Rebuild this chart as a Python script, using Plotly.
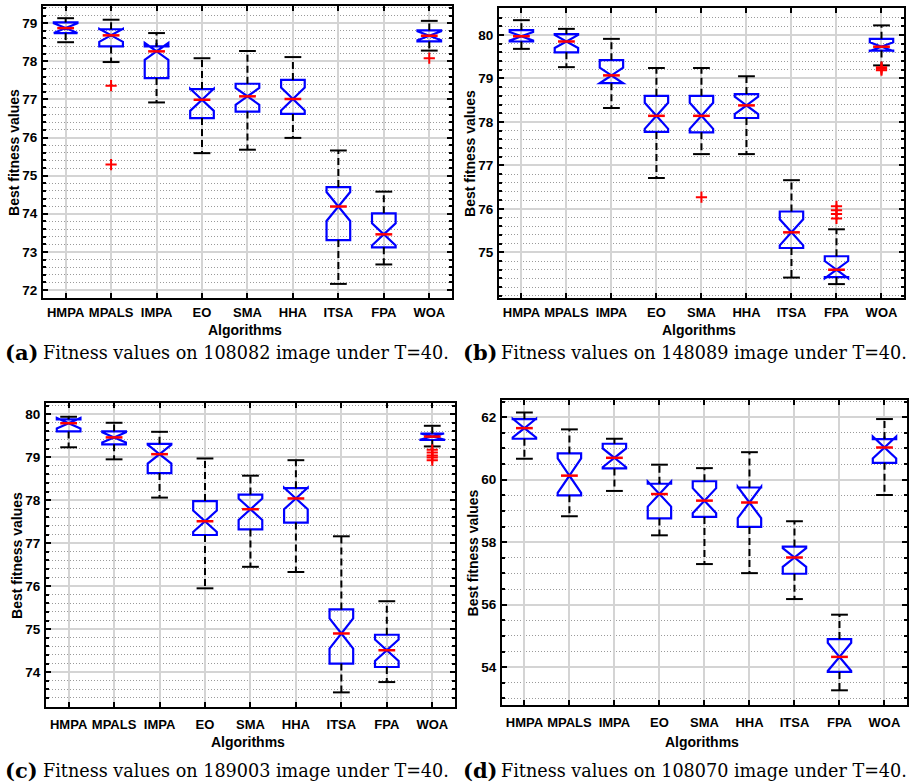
import plotly.graph_objects as go

cats = ["HMPA", "MPALS", "IMPA", "EO", "SMA", "HHA", "ITSA", "FPA", "WOA"]

# Panel (a): 108082 image
a_upper = [79.13, 79.09, 78.74, 78.08, 78.27, 78.11, 75.66, 74.58, 79.06]
a_q3 = [79.02, 78.84, 78.39, 77.27, 77.41, 77.51, 74.70, 74.01, 78.81]
a_med = [78.87, 78.68, 78.26, 76.99, 77.08, 77.01, 74.19, 73.46, 78.67]
a_q1 = [78.74, 78.39, 77.56, 76.51, 76.68, 76.62, 73.31, 73.12, 78.52]
a_lower = [78.50, 77.98, 76.92, 75.59, 75.68, 75.99, 72.16, 72.67, 78.28]
a_notch = [0.13, 0.17, 0.22, 0.29, 0.22, 0.30, 0.38, 0.29, 0.12]
a_out_x = ["MPALS", "MPALS", "WOA"]
a_out_y = [77.36, 75.29, 78.08]
a_ticks = [72, 73, 74, 75, 76, 77, 78, 79]

# Panel (b): 148089 image
b_upper = [80.34, 80.14, 79.91, 79.24, 79.24, 79.05, 76.66, 75.53, 80.22]
b_q3 = [80.11, 80.02, 79.42, 78.60, 78.60, 78.64, 75.94, 74.91, 79.91]
b_med = [79.97, 79.85, 79.07, 78.14, 78.14, 78.38, 75.46, 74.60, 79.73]
b_q1 = [79.85, 79.60, 78.89, 77.77, 77.76, 78.09, 75.10, 74.43, 79.64]
b_lower = [79.68, 79.26, 78.32, 76.71, 77.26, 77.26, 74.42, 74.27, 79.30]
b_notch = [0.10, 0.15, 0.18, 0.30, 0.30, 0.20, 0.30, 0.20, 0.10]
b_out_x = ["SMA", "FPA", "FPA", "FPA", "FPA", "WOA", "WOA", "WOA"]
b_out_y = [76.27, 76.06, 75.97, 75.88, 75.78, 79.26, 79.22, 79.19]
b_ticks = [75, 76, 77, 78, 79, 80]

# Panel (c): 189003 image
c_upper = [79.94, 79.80, 79.59, 78.97, 78.57, 78.93, 77.16, 75.65, 79.73]
c_q3 = [79.88, 79.60, 79.31, 77.98, 78.13, 78.28, 75.46, 74.87, 79.55]
c_med = [79.79, 79.46, 79.07, 77.51, 77.79, 78.04, 74.90, 74.51, 79.48]
c_q1 = [79.60, 79.30, 78.63, 77.19, 77.32, 77.48, 74.20, 74.12, 79.40]
c_lower = [79.23, 78.95, 78.06, 75.95, 76.45, 76.33, 73.53, 73.77, 79.25]
c_notch = [0.12, 0.12, 0.22, 0.25, 0.25, 0.25, 0.35, 0.25, 0.07]
c_out_x = ["WOA", "WOA", "WOA", "WOA", "WOA"]
c_out_y = [79.17, 79.11, 79.04, 78.99, 78.93]
c_ticks = [74, 75, 76, 77, 78, 79, 80]

# Panel (d): 108070 image
d_upper = [62.15, 61.61, 61.31, 60.48, 60.37, 60.88, 58.67, 55.68, 61.94]
d_q3 = [61.94, 60.84, 61.15, 59.87, 59.95, 59.75, 57.86, 54.90, 61.30]
d_med = [61.65, 60.13, 60.70, 59.54, 59.33, 59.27, 57.51, 54.33, 61.03]
d_q1 = [61.31, 59.50, 60.36, 58.76, 58.81, 58.49, 56.99, 53.85, 60.54]
d_lower = [60.67, 58.83, 59.64, 58.22, 57.30, 57.01, 56.18, 53.26, 59.51]
d_notch = [0.30, 0.55, 0.30, 0.40, 0.40, 0.50, 0.30, 0.45, 0.35]
d_out_x = []
d_out_y = []
d_ticks = [54, 56, 58, 60, 62]

caption_labels = ["(a)", "(b)", "(c)", "(d)"]
caption_texts = [
    "Fitness values on 108082 image under T=40.",
    "Fitness values on 148089 image under T=40.",
    "Fitness values on 189003 image under T=40.",
    "Fitness values on 108070 image under T=40.",
]

W, H = 909, 784
# pixel layout of each panel: (left, right, top, bottom), y range, minor step
panels = [
    dict(px=(43, 453, 6, 298), yr=(71.79, 79.45), minor=0.2, xstand=1, xt=330,
         data=(a_upper, a_q3, a_med, a_q1, a_lower, a_notch, a_out_x, a_out_y, a_ticks)),
    dict(px=(500, 906, 8, 298), yr=(73.95, 80.62), minor=0.2, xstand=1, xt=330,
         data=(b_upper, b_q3, b_med, b_q1, b_lower, b_notch, b_out_x, b_out_y, b_ticks)),
    dict(px=(46, 456, 403, 707), yr=(73.19, 80.26), minor=0.2, xstand=4, xt=742,
         data=(c_upper, c_q3, c_med, c_q1, c_lower, c_notch, c_out_x, c_out_y, c_ticks)),
    dict(px=(503, 909, 400, 705), yr=(52.79, 62.55), minor=0.5, xstand=4, xt=742,
         data=(d_upper, d_q3, d_med, d_q1, d_lower, d_notch, d_out_x, d_out_y, d_ticks)),
]

FONT = "Liberation Sans, Arial, sans-serif"
fig = go.Figure()
layout = {}
annotations = []

for i, p in enumerate(panels, start=1):
    up, q3, med, q1, lo, notch, ox, oy, ticks = p["data"]
    xa = "x" if i == 1 else f"x{i}"
    ya = "y" if i == 1 else f"y{i}"
    # whiskers
    wx, wy = [], []
    for c, u, t, b, l in zip(cats, up, q3, q1, lo):
        wx += [c, c, None, c, c, None]
        wy += [t, u, None, b, l, None]
    fig.add_trace(go.Scatter(x=wx, y=wy, mode="lines", xaxis=xa, yaxis=ya,
                             line=dict(color="black", width=2, dash="7px,4px"),
                             showlegend=False, hoverinfo="skip"))
    fig.add_trace(go.Box(x=cats, q1=q1, median=med, q3=q3, lowerfence=q1, upperfence=q3,
                         notched=True, notchspan=notch, notchwidth=0.5, width=0.52,
                         whiskerwidth=0, boxpoints=False,
                         line=dict(color="#0000ff", width=2.2), fillcolor="rgba(0,0,0,0)",
                         xaxis=xa, yaxis=ya, showlegend=False, hoverinfo="skip"))
    # caps
    fig.add_trace(go.Scatter(x=cats + cats, y=up + lo, mode="markers", xaxis=xa, yaxis=ya,
                             marker=dict(symbol="line-ew", size=12,
                                         line=dict(color="black", width=2)),
                             showlegend=False, hoverinfo="skip"))
    # medians
    fig.add_trace(go.Scatter(x=cats, y=med, mode="markers", xaxis=xa, yaxis=ya,
                             marker=dict(symbol="line-ew", size=12,
                                         line=dict(color="#ff0000", width=2.5)),
                             showlegend=False, hoverinfo="skip"))
    # outliers
    if ox:
        fig.add_trace(go.Scatter(x=ox, y=oy, mode="markers", xaxis=xa, yaxis=ya,
                                 marker=dict(symbol="cross-thin", size=8,
                                             line=dict(color="#ff0000", width=2)),
                                 showlegend=False, hoverinfo="skip"))

    l, r, t, b = p["px"]
    xkey = "xaxis" if i == 1 else f"xaxis{i}"
    ykey = "yaxis" if i == 1 else f"yaxis{i}"
    layout[xkey] = dict(
        domain=[l / W, min(r / W, 1.0)], anchor=ya, type="category",
        categoryorder="array", categoryarray=cats, range=[-0.5, 8.5],
        showgrid=True, gridcolor="#d4d4d4", gridwidth=1.5,
        showline=True, linecolor="black", linewidth=2, mirror="ticks",
        ticks="inside", ticklen=5, tickwidth=1.5, tickcolor="black",
        tickfont=dict(family=FONT, size=13, color="black", weight="bold"),
        ticklabelstandoff=p["xstand"], zeroline=False,
    )
    layout[ykey] = dict(
        domain=[1 - b / H, 1 - t / H], anchor=xa, range=list(p["yr"]),
        tickmode="array", tickvals=ticks,
        showgrid=True, gridcolor="#d4d4d4", gridwidth=1.5,
        showline=True, linecolor="black", linewidth=2, mirror="ticks",
        ticks="inside", ticklen=5, tickwidth=1.5, tickcolor="black",
        tickfont=dict(family=FONT, size=13.5, color="black", weight="bold"),
        ticklabelstandoff=1, zeroline=False,
        minor=dict(tickmode="linear", tick0=0, dtick=p["minor"], showgrid=True,
                   gridcolor="#9a9a9a", griddash="1px,2px", gridwidth=1,
                   ticks="inside", ticklen=3, tickcolor="black"),
    )
    # axis titles
    annotations.append(dict(
        text="Best fitness values", textangle=-90, showarrow=False,
        xref="paper", yref="paper", x=(l - 29) / W, y=1 - ((t + b) / 2) / H,
        xanchor="center", yanchor="middle",
        font=dict(family=FONT, size=14, color="black", weight="bold")))
    annotations.append(dict(
        text="Algorithms", showarrow=False, xref="paper", yref="paper",
        x=((l + min(r, 909)) / 2 - 2) / W, y=1 - p["xt"] / H,
        xanchor="center", yanchor="middle",
        font=dict(family=FONT, size=14, color="black", weight="bold")))

cap_pos = [(3, 352), (462, 352), (3, 770), (462, 770)]
for lab, txt, (cx, cy) in zip(caption_labels, caption_texts, cap_pos):
    annotations.append(dict(
        text=f"<b>{lab}</b>", showarrow=False, xref="paper", yref="paper",
        x=cx / W, y=1 - cy / H, xanchor="left", yanchor="middle",
        font=dict(family="DejaVu Serif, serif", size=21, color="black")))
    annotations.append(dict(
        text=txt, showarrow=False, xref="paper", yref="paper",
        x=(cx + 38) / W, y=1 - (cy + 1) / H, xanchor="left", yanchor="middle",
        font=dict(family="DejaVu Serif, serif", size=17.6, color="black")))

fig.update_layout(
    width=W, height=H, margin=dict(l=0, r=0, t=0, b=0),
    paper_bgcolor="white", plot_bgcolor="white",
    annotations=annotations, boxmode="overlay", **layout,
)

fig.write_html(
    "out.html",
    config={"displayModeBar": False},
    post_script="document.body.style.margin='0';document.body.style.padding='0';"
                "document.body.style.overflow='hidden';",
)
